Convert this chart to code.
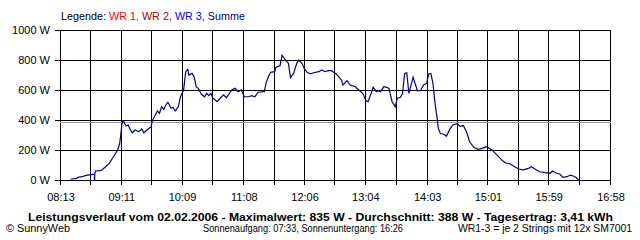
<!DOCTYPE html>
<html>
<head>
<meta charset="utf-8">
<script src="https://cdn.jsdelivr.net/npm/d3@7"></script>
<style>
  body { margin: 0; background: #fff; }
  svg { display: block; }
  text { font-family: 'Liberation Sans', Arial, sans-serif; font-size: 11px; fill: #000; }
  text.foot { font-size: 10px; }
</style>
</head>
<body>
<div id="chart"></div>
<script>
// Summe (all inverters)
const sumTimes = [
  '08:23', '08:29', '08:30', '08:34', '08:38', '08:44', '08:46', '08:47', '08:52', '08:56',
  '09:00', '09:04', '09:08', '09:10', '09:11', '09:12', '09:13', '09:14', '09:16', '09:18',
  '09:20', '09:22', '09:25', '09:28', '09:31', '09:33', '09:36', '09:40', '09:41', '09:44',
  '09:46', '09:48', '09:50', '09:52', '09:54', '09:56', '09:59', '10:01', '10:03', '10:06',
  '10:08', '10:11', '10:13', '10:15', '10:16', '10:19', '10:21', '10:23', '10:25', '10:28',
  '10:31', '10:33', '10:35', '10:37', '10:39', '10:43', '10:46', '10:49', '10:52', '10:57',
  '11:00', '11:03', '11:06', '11:09', '11:13', '11:16', '11:19', '11:22', '11:28', '11:30',
  '11:32', '11:34', '11:38', '11:39', '11:43', '11:45', '11:48', '11:51', '11:53', '11:56',
  '11:59', '12:01', '12:04', '12:06', '12:09', '12:12', '12:15', '12:20', '12:23', '12:26',
  '12:29', '12:32', '12:36', '12:39', '12:42', '12:43', '12:47', '12:50', '12:55', '12:59',
  '13:02', '13:05', '13:07', '13:10', '13:12', '13:15', '13:17', '13:19', '13:22', '13:25',
  '13:27', '13:30', '13:33', '13:35', '13:38', '13:40', '13:42', '13:44', '13:46', '13:49',
  '13:50', '13:53', '13:54', '13:57', '14:00', '14:03', '14:05', '14:07', '14:09', '14:11',
  '14:13', '14:14', '14:16', '14:19', '14:22', '14:25', '14:28', '14:32', '14:35', '14:38',
  '14:41', '14:44', '14:48', '14:52', '14:56', '15:00', '15:05', '15:10', '15:15', '15:18',
  '15:23', '15:27', '15:31', '15:35', '15:40', '15:43', '15:47', '15:51', '15:56', '16:01',
  '16:03', '16:07', '16:10', '16:13', '16:17', '16:20', '16:23', '16:26', '16:28'
]
const sumWatts = [
  5, 11, 18, 22, 31, 38, 38, 60, 62, 85,
  111, 155, 200, 245, 300, 367, 395, 389, 360, 367,
  338, 315, 333, 322, 340, 315, 333, 355, 393, 433,
  460, 445, 489, 471, 500, 518, 478, 485, 460, 489,
  555, 600, 722, 738, 700, 711, 689, 622, 611, 571,
  555, 578, 562, 578, 545, 522, 545, 567, 549, 600,
  611, 589, 600, 555, 555, 562, 555, 585, 589, 655,
  689, 718, 722, 751, 762, 832, 800, 778, 683, 711,
  778, 800, 778, 745, 718, 707, 715, 722, 733, 722,
  729, 729, 711, 689, 662, 633, 662, 633, 622, 595,
  578, 529, 522, 578, 618, 589, 595, 589, 622, 618,
  611, 522, 489, 545, 551, 578, 711, 715, 578, 655,
  685, 622, 595, 595, 633, 645, 707, 710, 645, 511,
  411, 347, 311, 305, 293, 338, 367, 375, 357, 363,
  322, 255, 218, 205, 211, 222, 202, 167, 131, 115,
  107, 89, 73, 67, 77, 89, 70, 55, 49, 45,
  60, 45, 40, 17, 22, 33, 27, 15, 0
]

// WR 3 shows only a short spike
const wr3Times = ['08:46', '08:46']
const wr3Watts = [0, 40]

const xTickLabels = ['08:13', '09:11', '10:09', '11:08', '12:06', '13:04', '14:03', '15:01', '15:59', '16:58']
const yTickValues = [0, 200, 400, 600, 800, 1000]
const averageWatts = 388

const legendNames = ['WR 1', 'WR 2', 'WR 3', 'Summe']
const legendColors = ['#ff0000', '#a00000', '#0000ff', '#000080']

const titleText = 'Leistungsverlauf vom 02.02.2006 - Maximalwert: 835 W - Durchschnitt: 388 W - Tagesertrag: 3,41 kWh'
const footLeft = '\u00a9 SunnyWeb'
const footMiddle = 'Sonnenaufgang: 07:33, Sonnenuntergang: 16:26'
const footRight = 'WR1-3 = je 2 Strings mit 12x SM7001'

const margin = { top: 30, left: 60, right: 30, bottom: 60 }
const fullWidth = 640
const fullHeight = 240
const width = fullWidth - margin.left - margin.right
const height = fullHeight - margin.top - margin.bottom

const toMinutes = s => {
  const p = s.split(':')
  return +p[0] * 60 + +p[1]
}
const crisp = v => Math.round(v) + 0.5

const svg = d3
  .select('#chart')
  .append('svg')
  .attr('width', fullWidth)
  .attr('height', fullHeight)

const xPositionScale = d3
  .scaleLinear()
  .domain([toMinutes(xTickLabels[0]), toMinutes(xTickLabels[xTickLabels.length - 1])])
  .range([margin.left, margin.left + width])

const yPositionScale = d3
  .scaleLinear()
  .domain([0, 1000])
  .range([margin.top + height, margin.top])

// grid: labelled ticks plus one line halfway between each pair
const tickMinutes = xTickLabels.map(toMinutes)
const gridMinutes = []
tickMinutes.forEach((m, i) => {
  gridMinutes.push(m)
  if (i < tickMinutes.length - 1) gridMinutes.push((m + tickMinutes[i + 1]) / 2)
})

const grid = svg.append('g').attr('shape-rendering', 'crispEdges')

grid
  .selectAll('.vgrid')
  .data(gridMinutes)
  .enter()
  .append('line')
  .attr('class', 'vgrid')
  .attr('x1', d => crisp(xPositionScale(d)))
  .attr('x2', d => crisp(xPositionScale(d)))
  .attr('y1', margin.top)
  .attr('y2', margin.top + height + 5)
  .attr('stroke', '#000')

grid
  .selectAll('.hgrid')
  .data(yTickValues)
  .enter()
  .append('line')
  .attr('class', 'hgrid')
  .attr('x1', margin.left - 5)
  .attr('x2', crisp(margin.left + width))
  .attr('y1', d => crisp(yPositionScale(d)))
  .attr('y2', d => crisp(yPositionScale(d)))
  .attr('stroke', '#000')

// average line
grid
  .append('line')
  .attr('x1', margin.left)
  .attr('x2', crisp(margin.left + width))
  .attr('y1', crisp(yPositionScale(averageWatts)))
  .attr('y2', crisp(yPositionScale(averageWatts)))
  .attr('stroke', '#a0a0a0')

// y labels
svg
  .selectAll('.ylabel')
  .data(yTickValues)
  .enter()
  .append('text')
  .attr('class', 'ylabel')
  .attr('x', margin.left - 10)
  .attr('y', d => yPositionScale(d) + 4)
  .attr('text-anchor', 'end')
  .text(d => d + ' W')

// x labels
svg
  .selectAll('.xlabel')
  .data(xTickLabels)
  .enter()
  .append('text')
  .attr('class', 'xlabel')
  .attr('x', d => xPositionScale(toMinutes(d)) + 1)
  .attr('y', margin.top + height + 21)
  .attr('text-anchor', 'middle')
  .text(d => d)

// lines
const line = d3
  .line()
  .x(d => xPositionScale(toMinutes(d[0])))
  .y(d => yPositionScale(d[1]))

svg
  .append('path')
  .datum(sumTimes.map((t, i) => [t, sumWatts[i]]))
  .attr('d', line)
  .attr('fill', 'none')
  .attr('stroke', legendColors[3])
  .attr('stroke-width', 1.2)

svg
  .append('path')
  .datum(wr3Times.map((t, i) => [t, wr3Watts[i]]))
  .attr('d', line)
  .attr('fill', 'none')
  .attr('stroke', legendColors[2])
  .attr('stroke-width', 1.5)

// legend
const legend = svg
  .append('text')
  .attr('x', 61)
  .attr('y', 20)
  .attr('textLength', 184)
  .attr('lengthAdjust', 'spacingAndGlyphs')
legend.append('tspan').text('Legende: ')
legendNames.forEach((name, i) => {
  legend
    .append('tspan')
    .attr('fill', legendColors[i])
    .text(name + (i < legendNames.length - 1 ? ', ' : ''))
})

// footer
svg
  .append('text')
  .attr('x', 28)
  .attr('y', 221)
  .attr('font-weight', 'bold')
  .attr('textLength', 585)
  .attr('lengthAdjust', 'spacingAndGlyphs')
  .text(titleText)

svg.append('text').attr('class', 'foot').attr('x', 6).attr('y', 232)
  .attr('textLength', 64).attr('lengthAdjust', 'spacingAndGlyphs').text(footLeft)
svg.append('text').attr('class', 'foot').attr('x', 203).attr('y', 232)
  .attr('textLength', 200).attr('lengthAdjust', 'spacingAndGlyphs').text(footMiddle)
svg.append('text').attr('class', 'foot').attr('x', 458).attr('y', 232)
  .attr('textLength', 174).attr('lengthAdjust', 'spacingAndGlyphs').text(footRight)
</script>
</body>
</html>
